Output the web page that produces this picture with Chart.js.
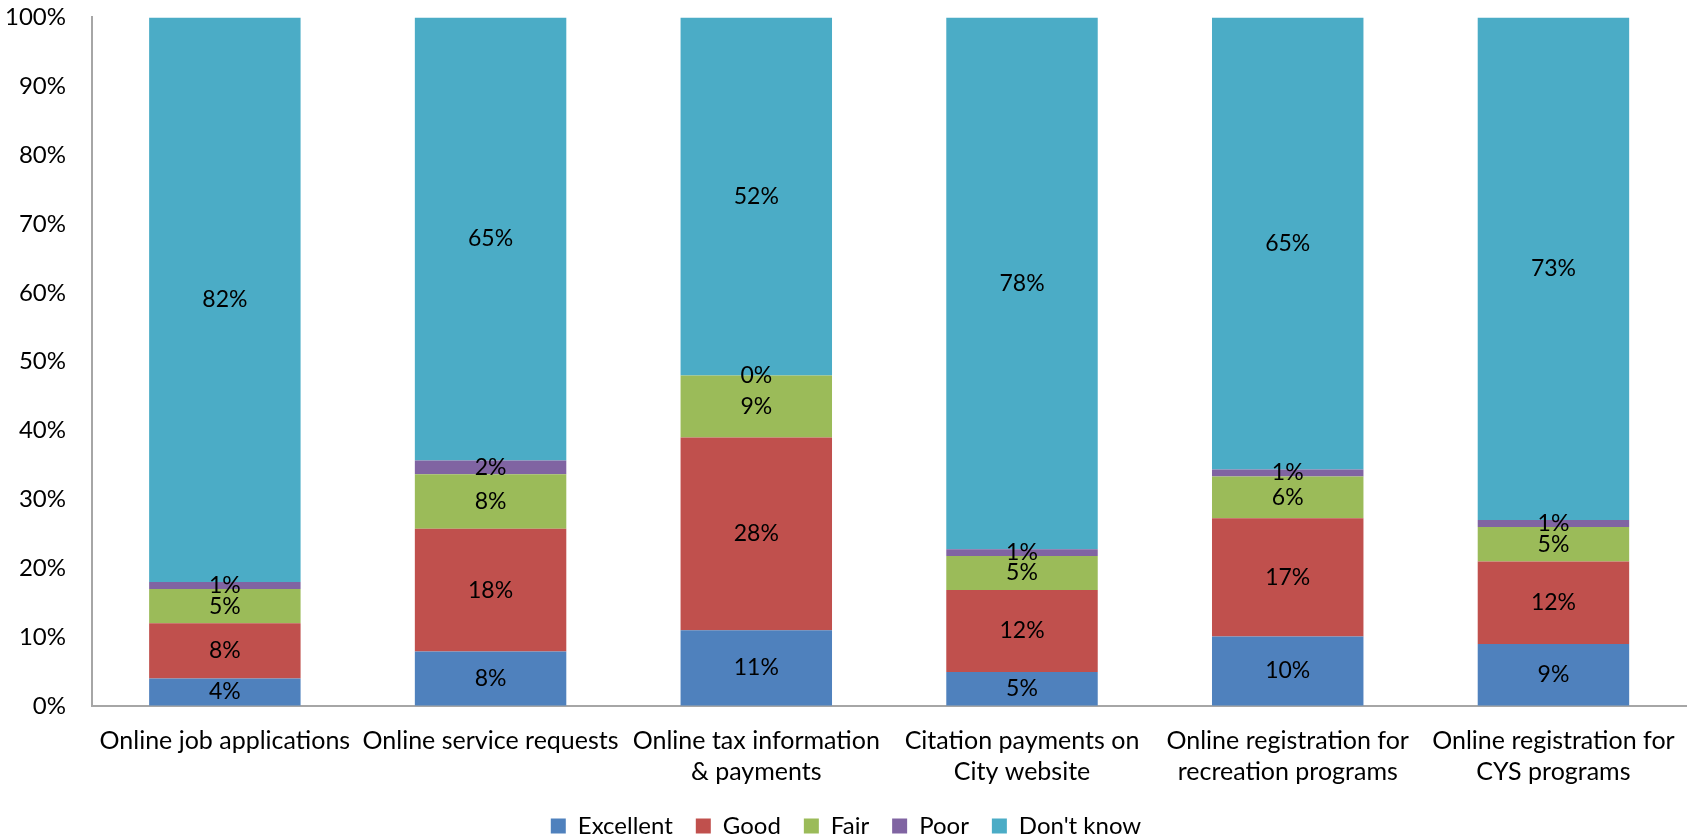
<!DOCTYPE html>
<html>
<head>
<meta charset="utf-8">
<script src="https://cdn.jsdelivr.net/npm/chart.js@4.4.1/dist/chart.umd.min.js"></script>
<style>
  html, body { margin: 0; padding: 0; background: #fff; }
  #wrap { width: 1694px; height: 839px; position: relative; }
</style>
</head>
<body>
<div id="wrap"><canvas id="chart"></canvas></div>
<script>
// Categories (multi-line labels as shown under each bar)
const categories = [
  'Online job applications',
  'Online service requests',
  ['Online tax information', '& payments'],
  ['Citation payments on', 'City website'],
  ['Online registration for', 'recreation programs'],
  ['Online registration for', 'CYS programs'],
];

// Shares in percent, as labelled on the bars
const excellent = [4, 8, 11, 5, 10, 9];
const good      = [8, 18, 28, 12, 17, 12];
const fair      = [5, 8, 9, 5, 6, 5];
const poor      = [1, 2, 0, 1, 1, 1];
const dontKnow  = [82, 65, 52, 78, 65, 73];

const yTicks = [0, 10, 20, 30, 40, 50, 60, 70, 80, 90, 100];

const FONT = 'Lato, "Open Sans", "DejaVu Sans", sans-serif';

const series = [
  { label: 'Excellent',  raw: excellent, color: '#4F81BD' },
  { label: 'Good',       raw: good,      color: '#C0504D' },
  { label: 'Fair',       raw: fair,      color: '#9BBB59' },
  { label: 'Poor',       raw: poor,      color: '#8064A2' },
  { label: "Don't know", raw: dontKnow,  color: '#4BACC6' },
];

// 100% stacked: each column is scaled to its own total
const totals = categories.map((_, i) => series.reduce((s, d) => s + d.raw[i], 0));

// Labels centred in each segment
const segmentLabels = {
  id: 'segmentLabels',
  afterDatasetsDraw(chart) {
    const ctx = chart.ctx;
    ctx.save();
    ctx.font = '23px ' + FONT;
    ctx.fillStyle = '#000';
    ctx.textAlign = 'center';
    ctx.textBaseline = 'middle';
    chart.data.datasets.forEach((ds, di) => {
      const meta = chart.getDatasetMeta(di);
      meta.data.forEach((bar, i) => {
        const y = (bar.y + bar.base) / 2;
        ctx.fillText(ds.raw[i] + '%', bar.x, y);
      });
    });
    ctx.restore();
  }
};

new Chart(document.getElementById('chart'), {
  type: 'bar',
  data: {
    labels: categories,
    datasets: series.map(s => ({
      label: s.label,
      raw: s.raw,
      data: s.raw.map((v, i) => v / totals[i] * 100),
      backgroundColor: s.color,
      borderWidth: 0,
      barPercentage: 0.57,
      categoryPercentage: 1,
    })),
  },
  options: {
    responsive: true,
    maintainAspectRatio: false,
    animation: false,
    layout: { padding: { top: 0, right: 4, left: 2, bottom: 0 } },
    plugins: {
      legend: {
        position: 'bottom',
        maxHeight: 48,
        labels: {
          font: { family: FONT, size: 24 },
          color: '#000',
          boxWidth: 15,
          boxHeight: 15,
          padding: 23,
        },
      },
      tooltip: { enabled: false },
    },
    scales: {
      x: {
        stacked: true,
        grid: { display: false, drawTicks: false },
        border: { color: '#A6A6A6', width: 2 },
        afterFit: axis => { axis.height = 85; },
        ticks: {
          font: { family: FONT, size: 25, lineHeight: 1.24 },
          color: '#000',
          padding: 19,
          maxRotation: 0,
          autoSkip: false,
        },
      },
      y: {
        stacked: true,
        min: 0,
        max: 100,
        afterBuildTicks: axis => { axis.ticks = yTicks.map(v => ({ value: v })); },
        grid: { display: true, drawOnChartArea: false, tickLength: 23, tickColor: 'rgba(0,0,0,0)' },
        border: { color: '#A6A6A6', width: 2 },
        ticks: {
          font: { family: FONT, size: 24 },
          color: '#000',
          padding: 3,
          callback: v => v + '%',
        },
      },
    },
  },
  plugins: [segmentLabels],
});
</script>
</body>
</html>
